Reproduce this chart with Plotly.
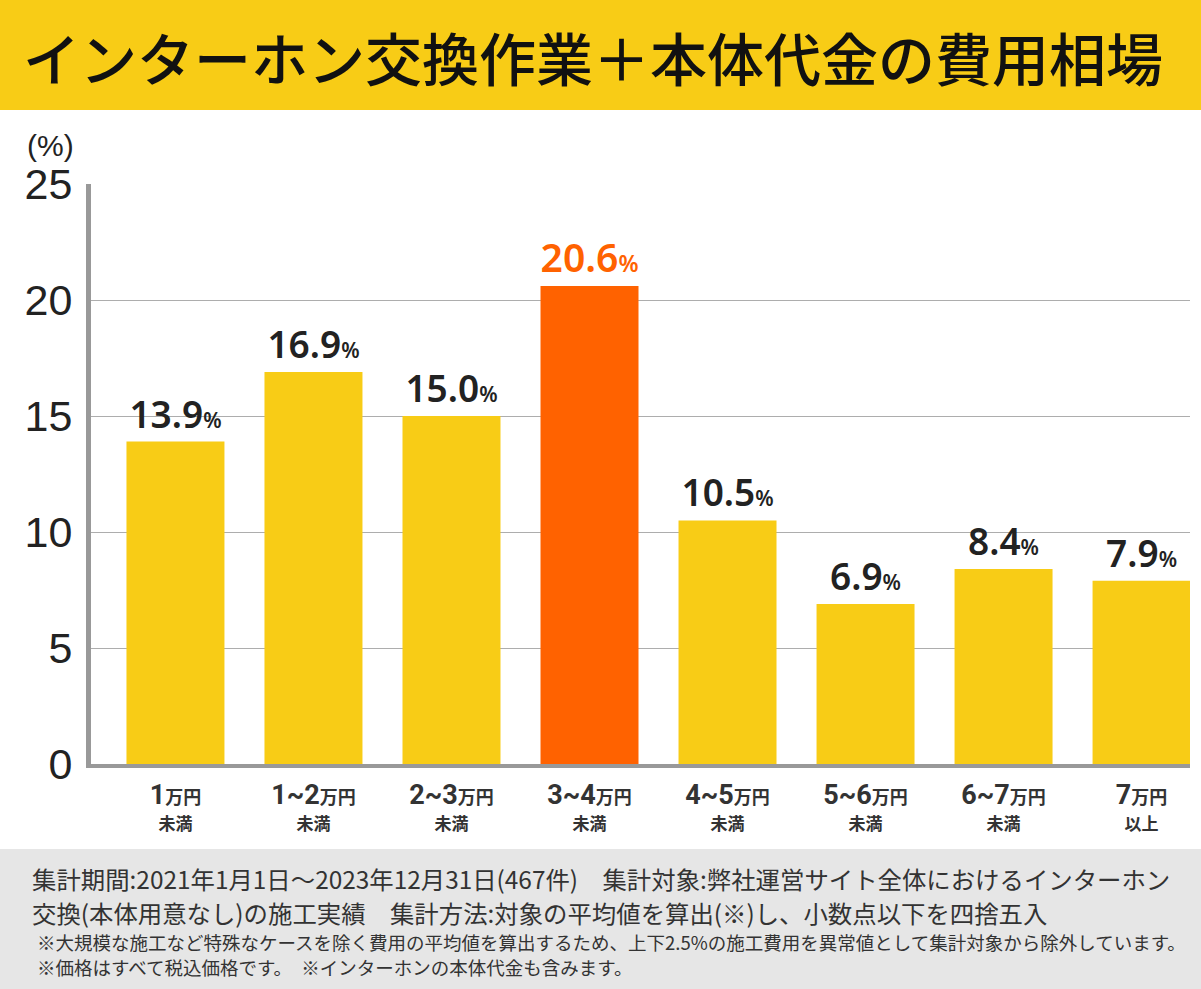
import plotly.graph_objects as go

# ---- data ----
cat_main = ["1", "1~2", "2~3", "3~4", "4~5", "5~6", "6~7", "7"]
cat_unit = ["万円"] * 8
cat_sub = ["未満", "未満", "未満", "未満", "未満", "未満", "未満", "以上"]
values = [13.9, 16.9, 15.0, 20.6, 10.5, 6.9, 8.4, 7.9]
highlight_index = 3
y_ticks = [0, 5, 10, 15, 20, 25]

title_text = "インターホン交換作業＋本体代金の費用相場"
footer_lines = [
    "集計期間:2021年1月1日～2023年12月31日(467件)　集計対象:弊社運営サイト全体におけるインターホン",
    "交換(本体用意なし)の施工実績　集計方法:対象の平均値を算出(※)し、小数点以下を四捨五入",
    "※大規模な施工など特殊なケースを除く費用の平均値を算出するため、上下2.5%の施工費用を異常値として集計対象から除外しています。",
    "※価格はすべて税込価格です。　※インターホンの本体代金も含みます。",
]

# ---- layout geometry ----
W, H = 1201, 989
ML, MR, MT, MB = 91, 11, 184, 225
PW, PH = W - ML - MR, H - MT - MB


def px_x(x):
    return (x - ML) / PW


def px_y(y):
    return (H - MB - y) / PH


YELLOW = "#F8CC16"
ORANGE = "#FF6200"
CJK = "Noto Sans CJK JP"

colors = [ORANGE if i == highlight_index else YELLOW for i in range(len(values))]
label_colors = [ORANGE if i == highlight_index else "#222222" for i in range(len(values))]
label_sizes = [46 if i == highlight_index else 37 for i in range(len(values))]
pct_sizes = [27 if i == highlight_index else 21 for i in range(len(values))]
texts = [
    f"{v:.1f}<span style='font-size:{p}px'>%</span>"
    for v, p in zip(values, pct_sizes)
]

ticktext = [
    f"<b><span style='font-size:27px'>{m}</span><span style='font-size:18px'>{u}</span>"
    f"<br><span style='font-size:17px'>{s}</span></b>"
    for m, u, s in zip(cat_main, cat_unit, cat_sub)
]

fig = go.Figure()
fig.add_trace(
    go.Bar(
        x=list(range(len(values))),
        y=values,
        marker=dict(color=colors, line=dict(width=0)),
        text=texts,
        textposition="outside",
        textfont=dict(family="Noto Sans, DejaVu Sans", size=label_sizes,
                      color=label_colors, weight=600),
        cliponaxis=False,
        hoverinfo="skip",
    )
)

shapes = [
    dict(type="rect", xref="paper", yref="paper",
         x0=px_x(-5), x1=px_x(W + 5), y0=px_y(110), y1=px_y(-5),
         fillcolor=YELLOW, line=dict(width=0), layer="below"),
    dict(type="rect", xref="paper", yref="paper",
         x0=px_x(-5), x1=px_x(W + 5), y0=px_y(H + 5), y1=px_y(849),
         fillcolor="#E6E6E6", line=dict(width=0), layer="below"),
]

annotations = [
    dict(text=title_text, x=px_x(593), y=px_y(56), xref="paper", yref="paper",
         showarrow=False, xanchor="center", yanchor="middle",
         font=dict(family=CJK, size=57, color="#111111", weight=500)),
    dict(text="(%)", x=px_x(50), y=px_y(145), xref="paper", yref="paper",
         showarrow=False, xanchor="center", yanchor="middle",
         font=dict(family="Liberation Sans, Arial", size=30, color="#222222")),
]

footer_y = [878, 912, 942, 967]
footer_sizes = [24.4, 24.4, 18.5, 18.5]
footer_x = [30, 30, 35, 35]
for t, y, s, x in zip(footer_lines, footer_y, footer_sizes, footer_x):
    annotations.append(
        dict(text=t, x=px_x(x), y=px_y(y), xref="paper", yref="paper",
             showarrow=False, xanchor="left", yanchor="middle",
             font=dict(family=CJK, size=s, color="#333333"))
    )

fig.update_layout(
    width=W, height=H,
    margin=dict(l=ML, r=MR, t=MT, b=MB, pad=0),
    paper_bgcolor="white", plot_bgcolor="white",
    showlegend=False,
    bargap=0.29,
    shapes=shapes,
    annotations=annotations,
)

fig.update_xaxes(
    range=[-0.612, 7.351],
    tickmode="array", tickvals=list(range(len(values))), ticktext=ticktext,
    tickfont=dict(family="Liberation Sans Narrow, Roboto, " + CJK, size=20, color="#333333"),
    ticks="outside", ticklen=12, tickcolor="rgba(0,0,0,0)",
    showline=True, linecolor="#999999", linewidth=4,
    showgrid=False, zeroline=False, fixedrange=True,
)

fig.update_yaxes(
    range=[0, 25],
    tickmode="array", tickvals=y_ticks, ticktext=[str(v) for v in y_ticks],
    tickfont=dict(family="Liberation Sans, Arial", size=43, color="#222222"),
    ticks="outside", ticklen=5, tickcolor="rgba(0,0,0,0)",
    showline=True, linecolor="#999999", linewidth=5,
    showgrid=True, gridcolor="#ADADAD", gridwidth=1,
    zeroline=False, fixedrange=True,
)

fig.write_html(
    "out.html",
    config={"displayModeBar": False},
    post_script="document.body.style.margin='0';document.body.style.overflow='hidden';",
)
